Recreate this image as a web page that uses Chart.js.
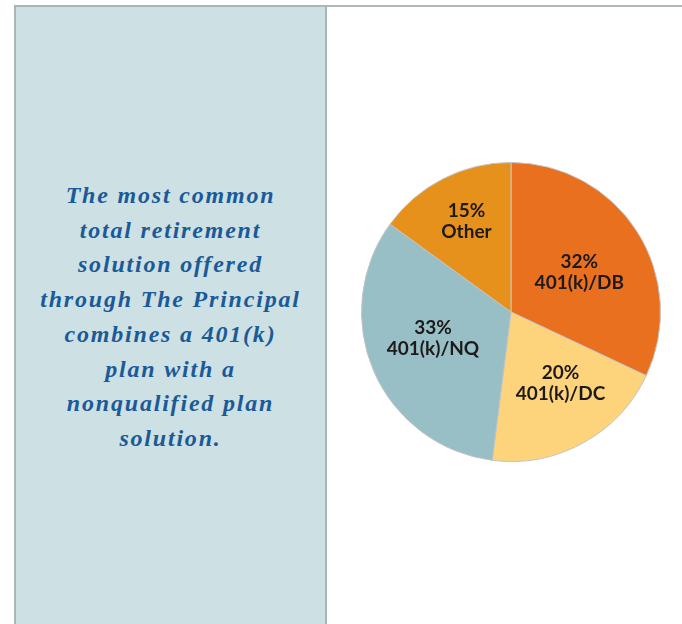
<!DOCTYPE html>
<html>
<head>
<meta charset="utf-8">
<script src="https://cdn.jsdelivr.net/npm/chart.js@4"></script>
<style>
  html, body { margin: 0; padding: 0; background: #fff; }
  body { width: 682px; height: 624px; position: relative; overflow: hidden; }
  .topline { position: absolute; left: 14px; top: 5px; width: 668px; height: 0; border-top: 2px solid #b0b8b6; }
  .side {
    position: absolute; left: 14px; top: 5px; width: 309px; height: 640px;
    background: #cde0e3; border: 2px solid #aab6b4;
  }
  .side p {
    position: absolute; left: 0; right: 0; top: 171px; margin: 0;
    text-align: center; color: #1b5a98;
    font-family: "Liberation Serif", serif; font-style: italic; font-weight: bold;
    font-size: 24px; line-height: 34.7px; letter-spacing: 1.8px;
  }
  #wrap { position: absolute; left: 336px; top: 137px; width: 350px; height: 350px; }
</style>
</head>
<body>
<div class="topline"></div>
<div class="side">
  <p>The most common<br>total retirement<br>solution offered<br>through The Principal<br>combines a 401(k)<br>plan with a<br>nonqualified plan<br>solution.</p>
</div>
<div id="wrap"><canvas id="pie"></canvas></div>
<script>
// plan combinations, clockwise from 12 o'clock
const labels = ['401(k)/DB', '401(k)/DC', '401(k)/NQ', 'Other'];
const shares = [32, 20, 33, 15];
const colors = ['#e8701f', '#fdd47c', '#97bfc5', '#e5911c'];

// label placement inside each slice: fraction of radius, and nudge (degrees) off the slice middle
const labelRadius = [0.53, 0.58, 0.55, 0.68];
const labelTurn = [2, -6, 5, 1];

const sliceLabels = {
    id: 'sliceLabels',
    afterDatasetsDraw(chart) {
        const ctx = chart.ctx;
        const meta = chart.getDatasetMeta(0);
        ctx.save();
        ctx.fillStyle = '#1e1a1b';
        ctx.font = 'bold 19px Lato, sans-serif';
        ctx.textAlign = 'center';
        ctx.textBaseline = 'middle';
        meta.data.forEach((arc, i) => {
            const p = arc.getProps(['x', 'y', 'startAngle', 'endAngle', 'outerRadius'], true);
            const mid = (p.startAngle + p.endAngle) / 2 + labelTurn[i] * Math.PI / 180;
            const r = p.outerRadius * labelRadius[i];
            const x = p.x + Math.cos(mid) * r;
            const y = p.y + Math.sin(mid) * r;
            ctx.fillText(shares[i] + '%', x, y - 10);
            ctx.fillText(labels[i], x, y + 11);
        });
        ctx.restore();
    }
};

new Chart(document.getElementById('pie'), {
    type: 'pie',
    data: {
        labels: labels,
        datasets: [{
            data: shares,
            backgroundColor: colors,
            borderColor: '#c4c4c4',
            borderWidth: 1
        }]
    },
    options: {
        responsive: true,
        maintainAspectRatio: false,
        animation: false,
        layout: { padding: 25 },
        plugins: {
            legend: { display: false },
            tooltip: { enabled: false }
        }
    },
    plugins: [sliceLabels]
});
</script>
</body>
</html>
